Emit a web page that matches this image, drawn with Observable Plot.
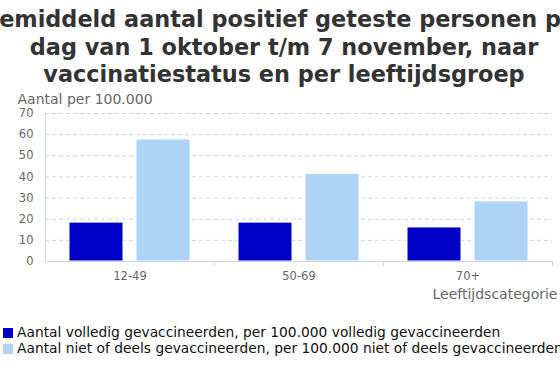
<!DOCTYPE html>
<html>
<head>
<meta charset="utf-8">
<script src="https://cdn.jsdelivr.net/npm/d3@7"></script>
<script src="https://cdn.jsdelivr.net/npm/@observablehq/plot@0.6"></script>
<style>
  html, body { margin: 0; padding: 0; background: #fff; }
  body { width: 560px; height: 373px; overflow: hidden; position: relative; font-family: "DejaVu Sans", Verdana, sans-serif; }
  #title { position: absolute; left: -66px; width: 700px; top: 6px; text-align: center; font-weight: bold;
           font-size: 22.4px; line-height: 27.5px; color: #333; white-space: nowrap; }
  #chart { position: absolute; left: 0; top: 91px; }
  #chart svg { overflow: visible; }
  #chart g[aria-label="y-axis label"] text, #chart g[aria-label="fx-axis label"] text { font-size: 14px; fill: #666; }
  #legend { position: absolute; left: 0; top: 325px; font-size: 13.8px; line-height: 15.5px; color: #111; white-space: nowrap; }
  .item { position: relative; padding-left: 17px; }
  .sw { position: absolute; left: 3px; top: 3px; width: 10px; height: 10px; }
</style>
</head>
<body>
<div id="title"></div>
<div id="chart"></div>
<div id="legend"></div>
<script>
const titleLines = [
  "Gemiddeld aantal positief geteste personen per",
  "dag van 1 oktober t/m 7 november, naar",
  "vaccinatiestatus en per leeftijdsgroep"
];
const groups = ["12-49", "50-69", "70+"];
const seriesNames = [
  "Aantal volledig gevaccineerden, per 100.000 volledig gevaccineerden",
  "Aantal niet of deels gevaccineerden, per 100.000 niet of deels gevaccineerden"
];
const seriesColors = ["#0000c8", "#aed4f5"];
const fullyVaccinated = [18.4, 18.4, 16.1];
const notVaccinated = [57.7, 41.4, 28.4];
const yTicks = [0, 10, 20, 30, 40, 50, 60, 70];
const yLabel = "Aantal per 100.000";
const xLabel = "Leeftijdscategorie";

const data = groups.flatMap((g, i) => [
  {group: g, series: seriesNames[0], value: fullyVaccinated[i]},
  {group: g, series: seriesNames[1], value: notVaccinated[i]}
]);

d3.select("#title").selectAll("div").data(titleLines).join("div").text(d => d);

const chart = Plot.plot({
  width: 560,
  height: 219,
  marginLeft: 45,
  marginRight: 8,
  marginTop: 22,
  marginBottom: 49,
  style: {fontFamily: "'DejaVu Sans', Verdana, sans-serif", fontSize: "11.5px", color: "#666", background: "transparent"},
  fx: {domain: groups, padding: 0},
  x: {domain: seriesNames, paddingInner: 0.194, paddingOuter: 0.358, axis: null},
  y: {domain: [0, 70]},
  color: {domain: seriesNames, range: seriesColors},
  marks: [
    Plot.gridY(yTicks, {stroke: "#c6d6ea", strokeOpacity: 1, strokeDasharray: "4,3"}),
    Plot.barY(data, {fx: "group", x: "series", y: "value", fill: "series", stroke: "#fff", strokeWidth: 1}),
    Plot.ruleY([0], {stroke: "#ccd6eb"}),
    Plot.frame({anchor: "left", facetAnchor: "left", stroke: "#ccd6eb"}),
    Plot.frame({anchor: "right", stroke: "#ccd6eb", insetTop: 148, insetBottom: -4}),
    Plot.axisY(yTicks, {tickSize: 0, tickPadding: 12, label: yLabel, labelAnchor: "top", labelArrow: "none", labelOffset: 28, fill: "#666"}),
    Plot.axisFx({anchor: "bottom", tickSize: 0, tickPadding: 10, label: xLabel, labelAnchor: "right", labelArrow: "none", labelOffset: 37, fill: "#666"})
  ]
});
document.getElementById("chart").append(chart);

const items = d3.select("#legend").selectAll("div").data(seriesNames).join("div").attr("class", "item");
items.append("span").attr("class", "sw").style("background", (d, i) => seriesColors[i]);
items.append("span").text(d => d);
</script>
</body>
</html>
